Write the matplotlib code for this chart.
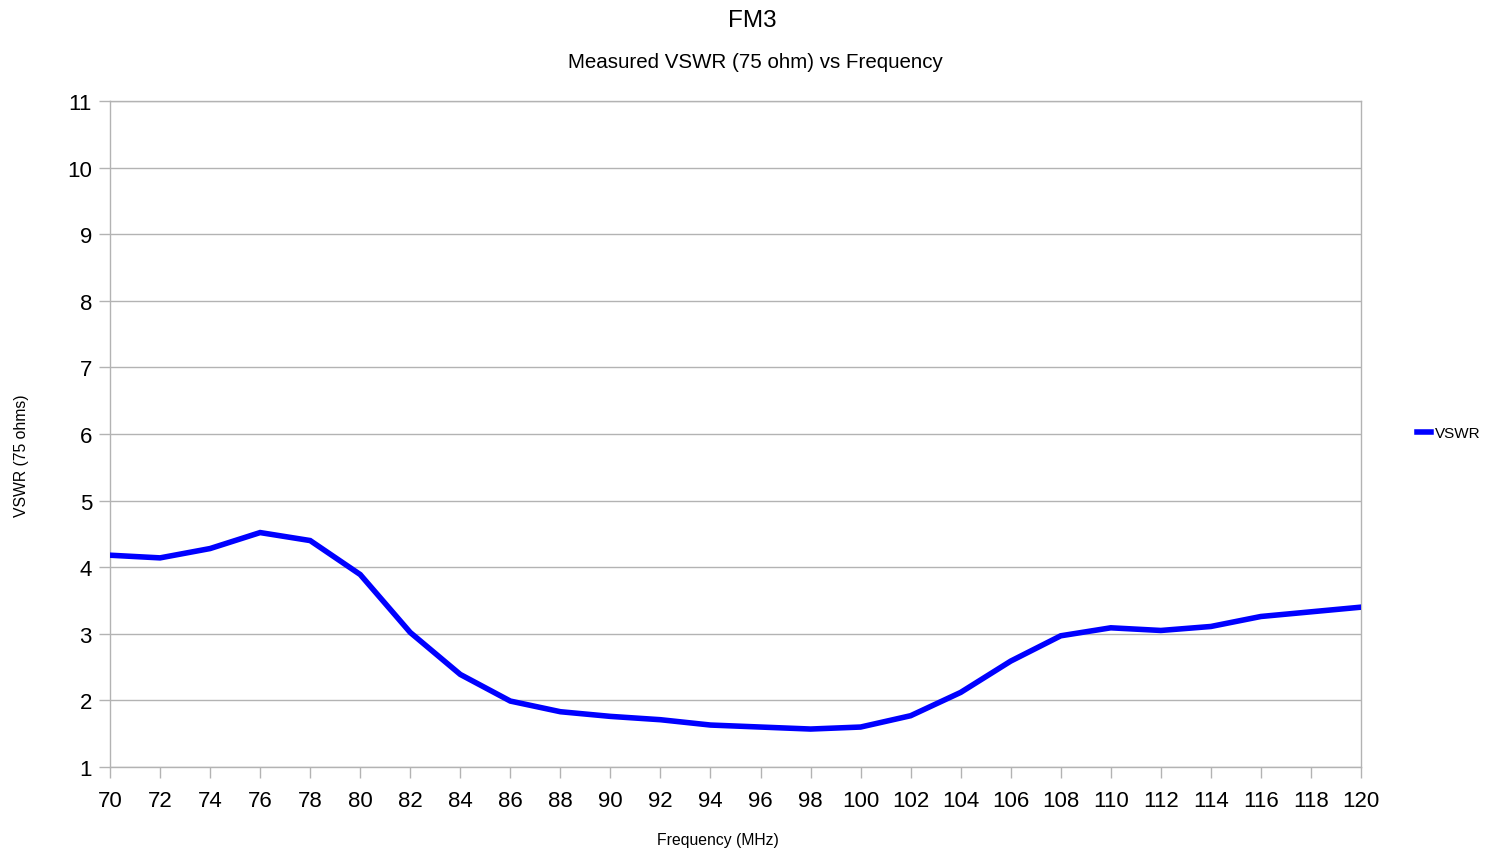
import numpy as np
import matplotlib
matplotlib.use("Agg")
import matplotlib.pyplot as plt

plt.rcParams['font.family'] = ['Liberation Sans', 'DejaVu Sans']

# frequency (MHz) and measured VSWR
freq = [70, 72, 74, 76, 78, 80, 82, 84, 86, 88, 90, 92, 94, 96, 98,
        100, 102, 104, 106, 108, 110, 112, 114, 116, 118, 120]
vswr = [4.18, 4.14, 4.28, 4.52, 4.40, 3.89, 3.02, 2.39, 1.99, 1.83, 1.76,
        1.71, 1.63, 1.60, 1.57, 1.60, 1.77, 2.12, 2.59, 2.97, 3.09, 3.05,
        3.11, 3.26, 3.33, 3.40]
y_ticks = list(range(1, 12))

grey = '#b3b3b3'

fig = plt.figure(figsize=(14.86, 8.54), dpi=100)
ax = fig.add_axes([110 / 1486, 1 - 768 / 854, 1251 / 1486, 666 / 854])

ax.plot(freq, vswr, color='#0000ff', lw=4.0, solid_joinstyle='miter',
        label='VSWR', zorder=3)

ax.set_xlim(70, 120)
ax.set_ylim(1, 11)
ax.set_xticks(freq)
ax.set_yticks(y_ticks)
ax.yaxis.grid(True, color=grey, lw=1)
ax.set_axisbelow(True)
for s in ax.spines.values():
    s.set_color(grey)
    s.set_linewidth(1)
ax.tick_params(axis='both', colors=grey, labelcolor='black', labelsize=16,
               length=8, width=1, direction='out')
ax.tick_params(axis='x', pad=8.5)
ax.tick_params(axis='y', pad=5)

fig.text(718 / 1486, 1 - 841 / 854, 'Frequency (MHz)', ha='center',
         va='center', fontsize=11.3)
fig.text(22 / 1486, 1 - 456 / 854, 'VSWR (75 ohms)', ha='center',
         va='center', rotation=90, fontsize=11.3)

fig.text(752 / 1486, 1 - 21 / 854, 'FM3', ha='center', va='center', fontsize=17.5)
fig.text(755 / 1486, 1 - 63 / 854, 'Measured VSWR (75 ohm) vs Frequency',
         ha='center', va='center', fontsize=14.8)

fig.legend(loc='center left', bbox_to_anchor=(1417 / 1486, 1 - 434 / 854),
           frameon=False, fontsize=11, handlelength=0.9, handletextpad=0.25,
           borderpad=0, borderaxespad=0)

fig.savefig('out.png', dpi=100)
